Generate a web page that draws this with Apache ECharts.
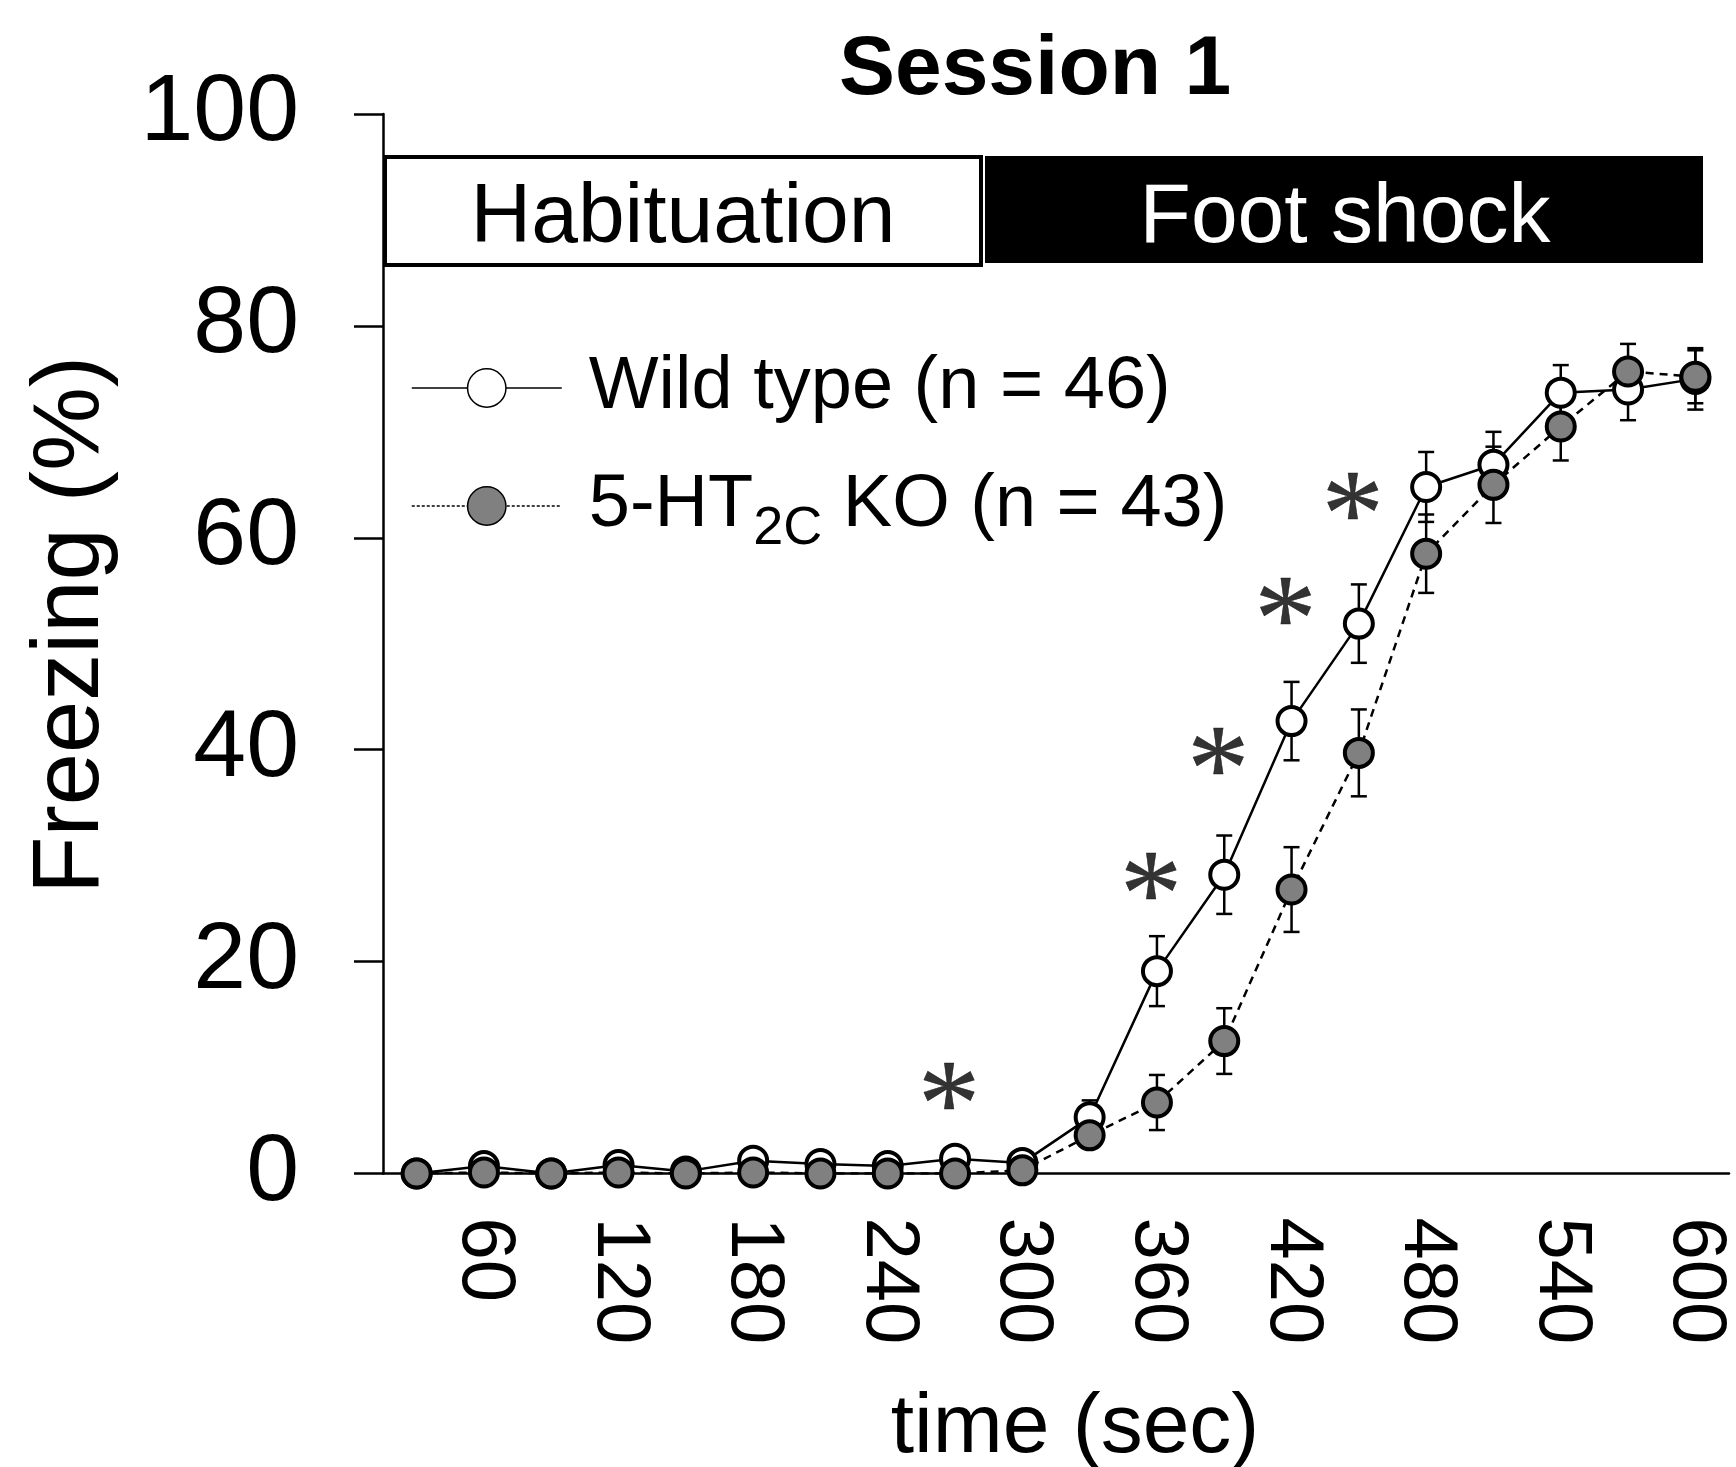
<!DOCTYPE html>
<html><head><meta charset="utf-8">
<script src="https://cdn.jsdelivr.net/npm/echarts@6/dist/echarts.min.js"></script>
<style>html,body{margin:0;padding:0;background:#fff}#c{width:1736px;height:1467px}</style>
</head><body><div id="c"></div>
<script>
const categories = ['30','60','90','120','150','180','210','240','270','300','330','360','390','420','450','480','510','540','570','600'];
const wildType    = [0, 0.7, 0, 0.8, 0.2, 1.2, 0.9, 0.7, 1.4, 1.0, 5.3, 19.1, 28.2, 42.7, 51.9, 64.8, 66.9, 73.7, 74.0, 75.0];
const wildTypeSem = [0, 0.5, 0, 0.5, 0.2, 0.6, 0.5, 0.4, 0.7, 0.5, 1.6, 3.3, 3.7, 3.7, 3.7, 3.3, 3.1, 2.6, 2.9, 2.9];
const ko          = [0, 0.1, 0, 0.1, 0, 0.1, 0, 0, 0, 0.3, 3.6, 6.7, 12.5, 26.8, 39.7, 58.5, 65.0, 70.5, 75.7, 75.2];
const koSem       = [0, 0.2, 0, 0.1, 0, 0.1, 0, 0, 0, 0.3, 0.9, 2.6, 3.1, 4.0, 4.1, 3.7, 3.6, 3.2, 2.6, 2.5];
const sigTimes    = ['270', '360', '390', '420', '450'];
const sigHeights  = [8.1, 27.9, 39.7, 53.8, 63.7];
const wtName = 'Wild type (n = 46)';
const koName = '5-HT2C KO (n = 43)';

const FONT = '"Liberation Sans", Arial, Helvetica, sans-serif';
const chart = echarts.init(document.getElementById('c'), null, {renderer: 'canvas'});

function errRender(params, api) {
  const i = api.value(0), m = api.value(1), e = api.value(2);
  const top = api.coord([i, m + e]);
  const bot = api.coord([i, m - e]);
  const w = 8;
  const st = {stroke: '#000', lineWidth: 2.5};
  return {type: 'group', children: [
    {type: 'line', shape: {x1: top[0], y1: top[1], x2: bot[0], y2: bot[1]}, style: st},
    {type: 'line', shape: {x1: top[0] - w, y1: top[1], x2: top[0] + w, y2: top[1]}, style: st},
    {type: 'line', shape: {x1: bot[0] - w, y1: bot[1], x2: bot[0] + w, y2: bot[1]}, style: st}
  ]};
}

const option = {
  backgroundColor: '#fff',
  animation: false,
  grid: {left: 383, top: 114, right: 7, bottom: 293.5, containLabel: false},
  xAxis: {
    type: 'category', data: categories, boundaryGap: true,
    axisLine: {lineStyle: {color: '#000', width: 2.5}},
    axisTick: {interval: 0, length: 22, lineStyle: {color: '#000', width: 2.5}},
    axisLabel: {interval: (i) => i % 2 === 1, rotate: -90, margin: 44, fontSize: 76, color: '#000', fontFamily: FONT},
    splitLine: {show: false}
  },
  yAxis: {
    type: 'value', min: 0, max: 100, interval: 20,
    axisLine: {show: true, lineStyle: {color: '#000', width: 2.5}},
    axisTick: {show: true, length: 29, lineStyle: {color: '#000', width: 2.5}},
    axisLabel: {margin: 84, fontSize: 95, color: '#000', fontFamily: FONT},
    splitLine: {show: false}
  },
  legend: [
    {data: [wtName], left: 406, top: 333, orient: 'vertical', itemWidth: 150, itemHeight: 48, selectedMode: false,
     textStyle: {fontSize: 74, color: '#000', fontFamily: FONT, lineHeight: 100, padding: [0, 0, 0, 22]},
     itemStyle: {borderWidth: 1.5}, lineStyle: {width: 1.5}},
    {data: [koName], left: 406, top: 451, orient: 'vertical', itemWidth: 150, itemHeight: 48, selectedMode: false,
     formatter: () => '5-HT{sub|2C} KO (n = 43)',
     textStyle: {fontSize: 74, color: '#000', fontFamily: FONT, lineHeight: 100, padding: [0, 0, 0, 22],
       rich: {sub: {fontSize: 54, fontFamily: FONT, color: '#000', verticalAlign: 'bottom', lineHeight: 54}}},
     itemStyle: {borderWidth: 1.5}, lineStyle: {width: 1.5, type: [3, 2]}}
  ],
  graphic: [
    {type: 'rect', shape: {x: 385, y: 157, width: 596, height: 108}, style: {fill: '#fff', stroke: '#000', lineWidth: 4}},
    {type: 'text', x: 683, y: 219, style: {text: 'Habituation', fill: '#000', font: '84px ' + FONT, align: 'center', verticalAlign: 'middle'}},
    {type: 'rect', shape: {x: 985, y: 156, width: 718, height: 107}, style: {fill: '#000'}},
    {type: 'text', x: 1345, y: 219, style: {text: 'Foot shock', fill: '#fff', font: '84px ' + FONT, align: 'center', verticalAlign: 'middle'}},
    {type: 'text', x: 1035, y: 71, style: {text: 'Session 1', fill: '#000', font: 'bold 84px ' + FONT, align: 'center', verticalAlign: 'middle'}},
    {type: 'text', x: 1075, y: 1429, style: {text: 'time (sec)', fill: '#000', font: '84px ' + FONT, align: 'center', verticalAlign: 'middle'}},
    {type: 'text', x: 72, y: 625, rotation: Math.PI / 2, style: {text: 'Freezing (%)', fill: '#000', font: '94px ' + FONT, align: 'center', verticalAlign: 'middle'}}
  ],
  series: [
    {type: 'custom', name: 'wtErr', renderItem: errRender, z: 1, silent: true,
     encode: {x: 0, y: 1}, data: categories.map((c, i) => [i, wildType[i], wildTypeSem[i]])},
    {type: 'custom', name: 'koErr', renderItem: errRender, z: 1, silent: true,
     encode: {x: 0, y: 1}, data: categories.map((c, i) => [i, ko[i], koSem[i]])},
    {type: 'line', name: wtName, data: wildType, z: 2, symbol: 'circle', symbolSize: 28,
     lineStyle: {color: '#000', width: 2.5, type: 'solid'},
     itemStyle: {color: '#fff', borderColor: '#000', borderWidth: 4}},
    {type: 'line', name: koName, data: ko, z: 3, symbol: 'circle', symbolSize: 28,
     lineStyle: {color: '#000', width: 2.5, type: [8, 6]},
     itemStyle: {color: '#808080', borderColor: '#000', borderWidth: 4}},
    {type: 'scatter', name: 'sig', z: 4, symbolSize: 1, itemStyle: {color: 'transparent'}, silent: true,
     data: sigTimes.map((t, i) => [t, sigHeights[i]]),
     label: {show: true, position: 'inside', formatter: '*', fontSize: 125, fontFamily: '"Liberation Serif", "Times New Roman", serif',
       color: '#000', textBorderColor: '#000', textBorderWidth: 0.5, offset: [-6, 24]}}
  ]
};
chart.setOption(option);
</script>
</body></html>
